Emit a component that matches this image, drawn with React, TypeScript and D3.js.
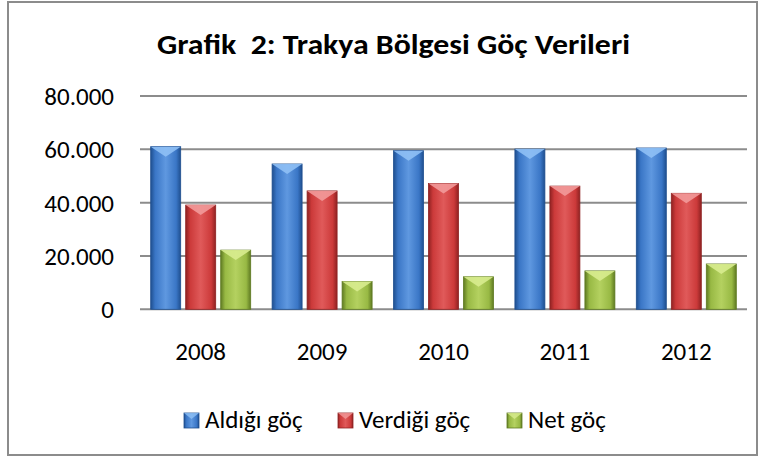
import * as d3 from "d3";

const years = ["2008", "2009", "2010", "2011", "2012"];
const seriesNames = ["Aldığı göç", "Verdiği göç", "Net göç"];
const aldigi = [61000, 54500, 59500, 60100, 60500];
const verdigi = [39100, 44400, 47200, 46200, 43500];
const net = [22200, 10400, 12200, 14400, 17000];
const yTicks = [0, 20000, 40000, 60000, 80000];

const palettes = [
  { base: "#3a76c6", light: "#5f98e0", dark: "#1f4f8f", top: "#8fc0f5" },
  { base: "#cc3a3a", light: "#e05a5a", dark: "#8f2222", top: "#f29a9a" },
  { base: "#98b944", light: "#b4d160", dark: "#5f7a22", top: "#d8ec8f" },
];

const W = 766;
const H = 462;
const left = 140;
const right = 747;
const top = 96;
const bottom = 309.3;

export default function App() {
  const values = [aldigi, verdigi, net];
  const x0 = d3.scaleBand().domain(years).range([left, right]);
  const y = d3.scaleLinear().domain([0, 80000]).range([bottom, top]);
  const barW = 30;
  const gap = 5;
  const groupW = barW * 3 + gap * 2;
  const fmt = (v: number) => (v === 0 ? "0" : d3.format(",")(v).replace(/,/g, "."));
  const font = "Carlito, Lato, sans-serif";
  const legendX = [184, 338, 507];

  return (
    <svg width={W} height={H} style={{ position: "absolute", left: 0, top: 0 }}>
      <defs>
        {palettes.map((p, i) => (
          <linearGradient key={i} id={`g${i}`} x1="0" x2="1" y1="0" y2="0">
            <stop offset="0" stopColor={p.dark} />
            <stop offset="0.15" stopColor={p.base} />
            <stop offset="0.5" stopColor={p.light} />
            <stop offset="0.85" stopColor={p.base} />
            <stop offset="1" stopColor={p.dark} />
          </linearGradient>
        ))}
      </defs>
      <rect x={8} y={2} width={749} height={453} fill="#fff" stroke="#8c8c8c" strokeWidth={2} />
      <text
        x={393.5}
        y={54}
        textAnchor="middle"
        fontFamily={font}
        fontWeight="bold"
        fontSize={28}
        textLength={473}
        lengthAdjust="spacingAndGlyphs"
        fill="#000"
        style={{ whiteSpace: "pre" }}
      >
        Grafik  2: Trakya Bölgesi Göç Verileri
      </text>
      {yTicks.map((t) => (
        <g key={t}>
          <line x1={left} x2={right} y1={y(t)} y2={y(t)} stroke="#8c8c8c" strokeWidth={2} />
          <text x={114} y={y(t) + 9} textAnchor="end" fontFamily={font} fontSize={25} fill="#000">
            {fmt(t)}
          </text>
        </g>
      ))}
      {years.map((yr, i) => {
        const cx = x0(yr)! + x0.bandwidth() / 2;
        const start = cx - groupW / 2;
        return (
          <g key={yr}>
            {values.map((vals, s) => {
              const bx = start + s * (barW + gap);
              const by = y(vals[i]);
              const bh = y(0) - by;
              const p = palettes[s];
              const bev = 10;
              return (
                <g key={s}>
                  <rect x={bx} y={by} width={barW} height={bh} fill={`url(#g${s})`} stroke={p.dark} strokeWidth={0.8} />
                  <polygon
                    points={`${bx},${by} ${bx + barW},${by} ${bx + barW / 2},${by + bev}`}
                    fill={p.top}
                    opacity={0.9}
                  />
                </g>
              );
            })}
            <text x={cx} y={360} textAnchor="middle" fontFamily={font} fontSize={25} fill="#000">
              {yr}
            </text>
          </g>
        );
      })}
      {seriesNames.map((name, s) => {
        const lx = legendX[s];
        const p = palettes[s];
        return (
          <g key={name}>
            <rect x={lx} y={413} width={15} height={15} fill={`url(#g${s})`} stroke={p.dark} strokeWidth={0.8} />
            <polygon points={`${lx},413 ${lx + 15},413 ${lx + 7.5},419`} fill={p.top} opacity={0.8} />
            <text x={lx + 21} y={428} fontFamily={font} fontSize={25} fill="#000">
              {name}
            </text>
          </g>
        );
      })}
    </svg>
  );
}
